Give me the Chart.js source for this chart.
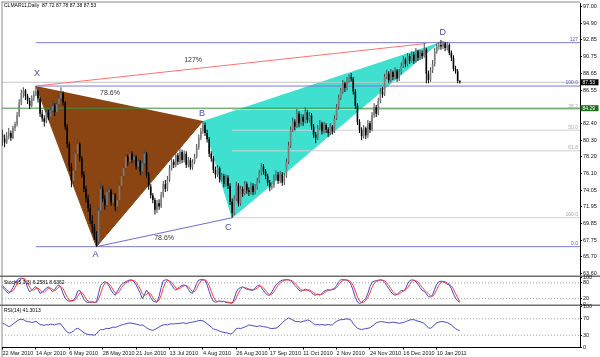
<!DOCTYPE html>
<html><head><meta charset="utf-8">
<script src="https://cdn.jsdelivr.net/npm/chart.js@4.4.1/dist/chart.umd.min.js"></script>
<style>
html,body{margin:0;padding:0;background:#fff;}
#wrap{position:relative;width:600px;height:357px;overflow:hidden;background:#fff;}
canvas{position:absolute;left:0;top:0;}
</style></head><body>
<div id="wrap">
<canvas id="cMain" width="600" height="357"></canvas>
<canvas id="cStoch" width="600" height="357"></canvas>
<canvas id="cRsi" width="600" height="357"></canvas>
</div>
<script>
// ---------------- DATA ----------------
const symbolName = 'CLMAR11';
const periodName = 'Daily';
const opens = [
81.0,80.5,80.0,80.8,81.2,80.6,81.8,82.3,83.4,85.0,
86.2,86.5,85.8,85.2,84.6,85.6,86.0,86.4,85.5,83.6,
83.0,82.6,83.8,83.2,84.0,84.6,83.8,84.8,85.5,86.2,
85.0,82.0,79.8,77.0,75.2,76.5,78.6,79.8,78.0,76.0,
74.2,73.0,71.8,70.2,69.4,68.2,67.6,71.5,74.2,73.0,
72.2,73.8,74.0,72.5,73.5,72.0,72.8,74.6,75.8,76.8,
78.2,77.6,78.6,77.8,78.2,77.0,77.6,76.4,77.4,78.6,
76.0,74.5,73.4,72.8,71.6,72.4,72.0,73.4,74.8,74.2,
75.4,76.8,77.6,77.2,78.4,77.6,78.8,77.8,78.6,77.2,
77.8,76.9,77.6,78.2,79.4,80.6,81.4,82.2,81.2,80.4,
78.6,78.0,76.6,76.0,76.8,75.4,75.8,74.8,75.6,74.6,
72.6,71.2,73.0,74.6,72.4,74.2,73.6,74.8,74.0,73.8,
74.6,73.8,74.4,75.2,76.2,77.0,76.4,75.8,75.0,74.4,
74.6,75.6,76.0,75.2,76.0,75.0,75.8,77.6,79.6,81.6,
82.6,82.0,83.6,82.4,83.2,82.6,83.8,82.8,83.4,82.0,
81.0,80.6,81.8,82.4,81.4,82.2,81.6,81.2,82.0,81.4,
83.0,84.4,85.6,86.4,87.4,86.8,87.8,88.2,88.0,86.4,
84.6,82.6,81.6,80.8,81.8,80.9,82.4,81.6,83.4,84.4,
83.6,85.2,86.4,86.0,88.2,88.6,87.8,88.8,88.2,89.0,
88.0,88.8,89.6,90.4,89.8,90.8,90.2,91.0,90.2,91.4,
90.6,91.2,90.8,91.6,88.6,87.8,89.0,89.8,91.4,92.0,
92.2,92.0,92.4,91.8,92.2,91.2,90.6,89.2,88.9,87.72];
const highs = [
81.6,81.0,81.3,81.8,81.5,82.1,82.6,83.8,85.4,86.6,
86.9,86.7,86.1,85.6,85.9,86.5,87.06,86.6,85.7,84.1,
83.4,84.2,84.1,84.5,85.2,84.9,85.2,85.9,86.9,86.4,
85.2,82.3,80.1,77.4,76.9,79.0,80.6,80.0,78.3,76.4,
74.6,73.5,72.3,70.9,69.8,68.9,71.9,75.0,74.6,73.4,
74.3,74.5,74.2,73.9,73.7,73.2,75.0,76.2,77.2,78.7,
78.5,79.0,78.9,78.7,78.4,78.0,77.8,77.8,79.0,78.8,
76.3,74.8,73.7,73.1,72.8,72.9,73.8,75.2,75.3,75.8,
77.2,78.0,77.9,78.8,78.7,79.4,79.1,79.0,78.9,78.2,
78.1,77.9,78.6,79.8,81.0,81.8,82.69,82.5,81.6,80.7,
78.9,78.3,77.0,77.2,77.0,76.2,76.1,76.0,75.9,74.9,
73.0,73.4,75.1,74.9,74.6,74.5,75.2,75.1,74.4,75.0,
74.9,74.8,75.6,76.6,77.4,77.3,76.7,76.1,75.3,75.0,
76.0,76.5,76.3,76.4,76.3,76.2,78.0,80.1,82.0,83.1,
82.9,84.2,83.9,83.6,83.5,84.4,84.1,83.8,83.7,82.3,
81.3,82.2,82.8,82.6,82.6,82.4,81.9,82.4,82.2,83.4,
84.8,86.0,86.8,87.8,87.6,88.2,88.5,88.7,88.2,86.7,
84.9,82.9,81.9,82.2,82.0,82.8,82.7,83.8,84.9,84.7,
85.6,86.8,86.9,88.6,89.1,88.9,89.2,89.0,89.4,89.2,
89.2,90.0,90.8,90.6,91.2,91.1,91.4,91.3,91.8,91.6,
91.6,91.5,92.4,91.8,89.0,89.4,90.3,91.8,92.4,92.6,
92.8,92.7,92.6,92.6,92.4,91.5,90.9,89.6,89.2,87.78];
const lows = [
79.6,79.4,79.8,80.4,80.2,80.4,81.4,82.0,83.2,84.7,
85.6,85.3,84.8,84.2,84.4,85.2,85.8,85.0,83.2,82.6,
82.0,82.4,82.8,83.0,83.8,83.3,83.6,84.5,85.2,84.6,
81.6,79.3,76.4,74.4,74.8,76.2,78.2,77.6,75.6,73.8,
72.5,71.3,69.8,68.7,67.8,66.98,67.3,71.2,72.6,71.6,
72.0,73.2,72.1,72.2,71.4,71.2,72.6,74.2,75.4,76.5,
77.1,77.3,77.4,77.5,76.6,76.7,75.9,76.1,77.1,75.6,
74.1,73.0,72.4,71.0,71.2,71.6,71.8,73.1,73.8,73.9,
75.1,76.5,76.8,76.9,77.2,77.3,77.4,77.5,76.8,76.9,
76.6,76.6,77.3,78.0,79.1,80.3,81.1,80.8,80.0,78.2,
77.6,76.2,75.5,75.7,75.0,75.1,74.4,74.5,74.2,72.2,
70.6,70.9,72.7,72.0,72.1,73.2,73.4,73.6,73.3,73.5,
73.4,73.5,74.1,74.9,75.9,76.0,75.4,74.6,73.9,74.1,
74.3,75.3,74.8,74.9,74.6,74.7,75.6,77.3,79.3,81.3,
81.5,81.8,81.9,82.1,82.1,82.4,82.4,82.5,81.6,80.6,
79.9,80.3,81.5,81.0,81.1,81.2,80.7,80.9,81.0,81.2,
82.8,84.1,85.3,86.1,86.3,86.5,87.4,87.6,86.0,84.2,
82.2,81.2,80.3,80.5,80.4,80.6,81.2,81.4,83.1,83.2,
83.4,84.9,85.6,85.8,87.9,87.4,87.5,87.8,87.9,87.6,
87.7,88.5,89.3,89.4,89.5,89.8,90.0,89.8,90.0,90.2,
90.3,90.4,90.6,87.4,87.4,87.6,88.7,89.5,91.1,91.6,
91.6,91.7,91.4,91.5,90.9,90.2,88.9,88.6,87.4,87.38];
const closes = [
80.5,80.0,80.8,81.2,80.6,81.8,82.3,83.4,85.0,86.2,
86.5,85.8,85.2,84.6,85.6,86.0,86.4,85.5,83.6,83.0,
82.6,83.8,83.2,84.0,84.6,83.8,84.8,85.5,86.2,85.0,
82.0,79.8,77.0,75.2,76.5,78.6,79.8,78.0,76.0,74.2,
73.0,71.8,70.2,69.4,68.2,67.6,71.5,74.2,73.0,72.2,
73.8,74.0,72.5,73.5,72.0,72.8,74.6,75.8,76.8,78.2,
77.6,78.6,77.8,78.2,77.0,77.6,76.4,77.4,78.6,76.0,
74.5,73.4,72.8,71.6,72.4,72.0,73.4,74.8,74.2,75.4,
76.8,77.6,77.2,78.4,77.6,78.8,77.8,78.6,77.2,77.8,
76.9,77.6,78.2,79.4,80.6,81.4,82.2,81.2,80.4,78.6,
78.0,76.6,76.0,76.8,75.4,75.8,74.8,75.6,74.6,72.6,
71.2,73.0,74.6,72.4,74.2,73.6,74.8,74.0,73.8,74.6,
73.8,74.4,75.2,76.2,77.0,76.4,75.8,75.0,74.4,74.6,
75.6,76.0,75.2,76.0,75.0,75.8,77.6,79.6,81.6,82.6,
82.0,83.6,82.4,83.2,82.6,83.8,82.8,83.4,82.0,81.0,
80.6,81.8,82.4,81.4,82.2,81.6,81.2,82.0,81.4,83.0,
84.4,85.6,86.4,87.4,86.8,87.8,88.2,88.0,86.4,84.6,
82.6,81.6,80.8,81.8,80.9,82.4,81.6,83.4,84.4,83.6,
85.2,86.4,86.0,88.2,88.6,87.8,88.8,88.2,89.0,88.0,
88.8,89.6,90.4,89.8,90.8,90.2,91.0,90.2,91.4,90.6,
91.2,90.8,91.6,88.6,87.8,89.0,89.8,91.4,92.0,92.2,
92.0,92.4,91.8,92.2,91.2,90.6,89.2,88.9,87.7,87.53];

const stochK = [
65,55,46,40,48,62,78,90,97,98, 97,85,62,46,52,60,66,55,40,44,
52,60,65,55,46,55,66,72,62,40, 22,14,10,12,14,26,48,52,34,18,
8,6,7,8,6,7,40,70,79,85, 80,68,52,40,33,48,62,74,79,84,
88,91,90,84,72,56,40,20,36,52, 40,24,12,8,7,30,62,88,91,91,
84,72,60,52,58,66,70,72,68,56, 44,40,58,78,90,92,92,90,72,48,
24,10,7,9,12,8,10,6,5,4, 3,20,45,58,62,65,60,56,54,52,
52,60,68,72,62,50,40,34,33,45, 60,72,80,86,90,91,92,91,88,80,
70,62,52,48,52,56,52,50,42,36, 33,38,34,40,48,52,54,52,56,59,
70,84,91,92,91,90,84,72,50,24, 8,2,6,14,20,40,66,82,86,88,
90,91,90,82,70,58,46,38,33,36, 44,52,50,56,76,88,91,90,84,74,
62,52,48,38,28,26,34,56,74,84, 86,85,80,74,72,58,38,22,12,6.2581];
const stochD = [
70,62,54,47,46,50,62,76,88,95, 97,93,80,64,54,52,59,60,53,46,
45,52,59,60,55,50,56,64,66,58, 42,25,15,12,12,17,29,42,44,34,
20,11,7,7,7,7,18,39,63,78, 82,77,66,53,42,40,48,62,72,79,
84,88,90,88,82,70,56,38,32,36, 43,38,25,14,9,15,33,60,80,90,
88,82,72,61,56,59,65,69,70,65, 56,47,47,58,75,87,91,91,85,70,
48,27,13,9,9,10,10,8,7,5, 4,9,23,41,55,62,62,60,57,54,
53,55,60,67,67,61,51,41,36,37, 46,59,71,79,85,89,91,91,90,86,
79,71,61,54,51,52,53,53,48,43, 37,36,35,37,41,47,51,53,54,56,
62,71,82,89,91,91,88,82,69,49, 27,11,5,7,13,25,42,63,78,85,
88,90,90,88,81,70,58,47,39,36, 38,44,49,53,61,73,85,90,88,83,
73,63,54,46,38,31,29,39,55,71, 81,85,84,80,75,68,56,39,24,8.6362];
const rsi = [
59,57,54,51,53,57,61,65,68,69, 68,65,63,63,61,62,64,60,56,55,
54,56,55,57,56,55,57,58,57,50, 43,38,35,37,40,45,47,44,40,36,
33,32,31,31,30,33,40,44,43,45, 47,46,48,50,49,51,53,55,56,58,
59,60,59,58,57,56,54,55,52,48, 45,43,42,44,47,50,53,55,56,55,
57,58,57,59,58,59,60,60,58,60, 61,62,63,64,66,66,65,62,58,54,
50,45,44,42,40,38,37,36,35,33, 34,40,46,47,46,48,50,52,55,54,
53,52,51,53,52,51,50,49,47,46, 47,47,50,55,60,65,69,72,70,67,
64,63,63,62,64,65,67,66,62,58, 55,56,55,56,55,55,56,55,55,60,
64,66,68,68,69,70,69,66,58,52, 47,45,44,45,46,47,48,52,56,60,
62,63,63,62,61,60,61,62,61,60, 59,60,61,63,65,67,68,68,66,64,
63,61,59,53,48,47,50,56,60,62, 63,63,62,61,58,55,50,46,43,41.3013];

const dateLabels = ['22 Mar 2010','14 Apr 2010','6 May 2010','28 May 2010','21 Jun 2010','13 Jul 2010','4 Aug 2010','26 Aug 2010','17 Sep 2010','11 Oct 2010','2 Nov 2010','24 Nov 2010','16 Dec 2010','10 Jan 2011'];
const dateTickBars = [0,16,32,48,64,80,96,112,128,144,160,176,192,208];
const priceTicks = [97.00,94.90,92.85,90.75,88.65,86.55,82.40,80.30,78.20,76.10,74.05,71.95,69.85,67.75,65.70,63.60];
const stochTicks = [100,80,20,0];
const stochLevels = [80,20];
const rsiTicks = [100,70,30,0];
const rsiLevels = [70,30];

// harmonic pattern points X A B C D
const pointNames = ['X','A','B','C','D'];
const pointBars = [16,45,96,110,209];
const pointPrices = [87.06,66.98,82.69,70.60,92.48];
// fibonacci levels
const xaFibNames = ['0.0','100.0','127'];
const xaFibLevels = [66.98,87.06,92.48];
const cdFibNames = ['38.2','50.0','61.8','100.0'];
const cdFibLevels = [84.12,81.54,78.96,70.60];
const greenLevel = 84.29;
const redLineBars = [16,203];
const redLinePrices = [87.06,92.38];
const ratioTexts = ['127%','78.6%','78.6%'];
const ratioBars = [91.3,51.5,77.4];
const ratioPrices = [90.3,86.2,68.06];

// ---------------- CHARTS ----------------
const FONT = '"Liberation Sans", "DejaVu Sans", sans-serif';
Chart.defaults.font.family = FONT;
Chart.defaults.animation = false;
Chart.defaults.responsive = false;
Chart.defaults.events = [];
Chart.defaults.plugins.legend.display = false;
Chart.defaults.plugins.tooltip.enabled = false;

const X_MIN = -0.24, X_MAX = 276.6;
const lastI = closes.length - 1;
const idx = closes.map((_, i) => i);
const f2 = v => v.toFixed(2);

function seg(x0, y0, x1, y1, color, order, dash) {
  return {type:'line', data:[{x:x0,y:y0},{x:x1,y:y1}], borderColor:color, borderWidth:1,
    borderDash: dash || [], pointRadius:0, fill:false, tension:0, order};
}
function xScale() {
  return {type:'linear', min:X_MIN, max:X_MAX, offset:false, display:false, grid:{display:false}};
}
function yRight(min, max, ticks, fmt) {
  return {type:'linear', position:'right', min, max,
    afterFit(s){ s.width = 20; s.paddingTop = 0; s.paddingBottom = 0; },
    afterBuildTicks(s){ s.ticks = ticks.map(v => ({value:v})); },
    ticks:{autoSkip:false, callback: fmt, font:{size:5.5}, color:'#111', padding:1},
    grid:{drawOnChartArea:false, drawTicks:true, tickLength:2, tickColor:'#000'},
    border:{display:true, color:'#000', width:1}};
}
const bullCol = '#7c7c7c', bearCol = '#000000';

// Main price chart
const mainPlugin = {
  id:'mainDeco',
  afterDatasetsDraw(chart){
    const {ctx, chartArea:a, scales:{x, y}} = chart;
    ctx.save();
    ctx.font = '5px ' + FONT; ctx.textAlign = 'right'; ctx.textBaseline = 'bottom';
    ctx.fillStyle = '#5a5ac8';
    xaFibNames.forEach((t,k) => ctx.fillText(t, a.right - 2, y.getPixelForValue(xaFibLevels[k]) - 0.5));
    ctx.fillStyle = '#a8a8a8';
    cdFibNames.forEach((t,k) => ctx.fillText(t, a.right - 2, y.getPixelForValue(cdFibLevels[k]) - 0.5));
    const off = [[1,-13],[-1,7.5],[-1,-7],[-4,9.5],[4,-10.5]];
    ctx.font = '9px ' + FONT; ctx.textAlign = 'center'; ctx.textBaseline = 'middle';
    ctx.fillStyle = '#4b4bb4';
    pointNames.forEach((t,k) => ctx.fillText(t, x.getPixelForValue(pointBars[k]) + off[k][0], y.getPixelForValue(pointPrices[k]) + off[k][1]));
    ctx.font = '7px ' + FONT; ctx.fillStyle = '#333';
    ratioTexts.forEach((t,k) => ctx.fillText(t, x.getPixelForValue(ratioBars[k]), y.getPixelForValue(ratioPrices[k])));
    ctx.restore();
  },
  afterDraw(chart){
    const {ctx, chartArea:a, scales:{y}} = chart;
    ctx.save();
    // frame
    ctx.fillStyle = '#8c8c8c';
    ctx.fillRect(1.5, 1.5, a.right - 1.5, 1);
    ctx.fillRect(1.5, 1.5, 1, 357);
    ctx.fillStyle = '#6e6e6e';
    ctx.fillRect(0, 275.5, 600, 1.5);
    ctx.fillRect(0, 304.5, 600, 1.5);
    // header
    ctx.font = '5px ' + FONT; ctx.fillStyle = '#000'; ctx.textAlign = 'left'; ctx.textBaseline = 'middle';
    ctx.fillText(symbolName + ',' + periodName + '  ' + [opens[lastI],highs[lastI],lows[lastI],closes[lastI]].map(f2).join(' '), 4, 5.5);
    // price tags
    const tags = [[closes[lastI], '#000000'], [greenLevel, '#1f6f1f']];
    tags.forEach(([v, bg]) => {
      const py = y.getPixelForValue(v);
      ctx.fillStyle = bg; ctx.fillRect(a.right + 0.5, py - 3, 18, 6);
      ctx.fillStyle = '#fff'; ctx.font = '5px ' + FONT; ctx.textAlign = 'left';
      ctx.fillText(f2(v), a.right + 2.5, py + 0.2);
    });
    ctx.restore();
  }
};

new Chart(document.getElementById('cMain'), {
  type:'bar',
  data:{datasets:[
    {type:'line', data:[0,1,2].map(k => ({x:pointBars[k], y:pointPrices[k]})), fill:'shape',
      backgroundColor:'#8b4513', borderColor:'#8b4513', borderWidth:1, pointRadius:0, tension:0, order:50},
    {type:'line', data:[2,3,4].map(k => ({x:pointBars[k], y:pointPrices[k]})), fill:'shape',
      backgroundColor:'#40e0d0', borderColor:'#40e0d0', borderWidth:1, pointRadius:0, tension:0, order:50},
    ...cdFibLevels.map(v => seg(pointBars[3], v, X_MAX, v, '#d0d0d0', 41)),
    seg(X_MIN, closes[lastI], X_MAX, closes[lastI], '#c4c4c4', 42),
    seg(X_MIN, greenLevel, X_MAX, greenLevel, '#3f8f3f', 39),
    ...xaFibLevels.map(v => seg(pointBars[0], v, X_MAX, v, '#7b7bd0', 38)),
    seg(redLineBars[0], redLinePrices[0], redLineBars[1], redLinePrices[1], '#ff7070', 30),
    seg(pointBars[1], pointPrices[1], pointBars[3], pointPrices[3], '#6e6ed2', 30),
    {type:'bar', data: idx.map(i => ({x:i, y:[lows[i], highs[i]]})), barThickness:1, grouped:false,
      inflateAmount:0, borderWidth:0, order:2,
      backgroundColor: c => closes[c.dataIndex] >= opens[c.dataIndex] ? '#4a4a4a' : '#000'},
    {type:'bar', data: idx.map(i => ({x:i, y:[opens[i], closes[i]]})), barThickness:1.6, grouped:false,
      inflateAmount:0, borderWidth:0, order:1,
      backgroundColor: c => closes[c.dataIndex] >= opens[c.dataIndex] ? bullCol : bearCol}
  ]},
  options:{
    layout:{padding:{left:2, top:3, right:0, bottom:82}},
    scales:{ x: xScale(), y: yRight(63.44, 97.44, priceTicks, v => f2(v)) }
  },
  plugins:[mainPlugin]
});

// Stochastic panel
const stochPlugin = {
  id:'stochDeco',
  afterDraw(chart){
    const {ctx} = chart;
    ctx.save();
    ctx.font = '5px ' + FONT; ctx.fillStyle = '#000'; ctx.textAlign = 'left'; ctx.textBaseline = 'middle';
    ctx.fillText('Stoch(5,3,3) ' + stochK[lastI].toFixed(4) + ' ' + stochD[lastI].toFixed(4), 4, 282.3);
    ctx.restore();
  }
};
new Chart(document.getElementById('cStoch'), {
  type:'line',
  data:{datasets:[
    ...stochLevels.map(v => seg(X_MIN, v, X_MAX, v, '#a0a0a0', 10, [1,2])),
    {data: idx.map(i => ({x:i, y:stochK[i]})), borderColor:'#4646c8', borderWidth:1, pointRadius:0, tension:0, order:2},
    {data: idx.map(i => ({x:i, y:stochD[i]})), borderColor:'#ff3c3c', borderWidth:1, pointRadius:0, tension:0, order:1}
  ]},
  options:{
    layout:{padding:{left:2, top:277.5, right:0, bottom:357-304}},
    scales:{ x: xScale(), y: yRight(0, 100, stochTicks, v => String(v)) }
  },
  plugins:[stochPlugin]
});

// RSI panel with date axis
const rsiPlugin = {
  id:'rsiDeco',
  afterDraw(chart){
    const {ctx} = chart;
    ctx.save();
    ctx.font = '5px ' + FONT; ctx.fillStyle = '#000'; ctx.textAlign = 'left'; ctx.textBaseline = 'middle';
    ctx.fillText('RSI(14) ' + rsi[lastI].toFixed(4), 4, 311);
    ctx.restore();
  }
};
new Chart(document.getElementById('cRsi'), {
  type:'line',
  data:{datasets:[
    ...rsiLevels.map(v => seg(X_MIN, v, X_MAX, v, '#a0a0a0', 10, [1,2])),
    {data: idx.map(i => ({x:i, y:rsi[i]})), borderColor:'#4646c8', borderWidth:1, pointRadius:0, tension:0, order:1}
  ]},
  options:{
    layout:{padding:{left:2, top:306.5, right:0, bottom:0}},
    scales:{
      x:{type:'linear', min:X_MIN, max:X_MAX, offset:false, position:'bottom',
        afterFit(s){ s.height = 9.5; s.paddingLeft = 0; s.paddingRight = 0; },
        afterBuildTicks(s){ s.ticks = dateTickBars.map(v => ({value:v})); },
        ticks:{autoSkip:false, maxRotation:0, minRotation:0, align:'start', callback:(v,i) => dateLabels[i],
          font:{size:5.5}, color:'#111', padding:1},
        grid:{drawOnChartArea:false, drawTicks:true, tickLength:2, tickColor:'#000'},
        border:{display:true, color:'#000', width:1}},
      y: yRight(0, 100, rsiTicks, v => String(v))
    }
  },
  plugins:[rsiPlugin]
});
</script>
</body></html>
